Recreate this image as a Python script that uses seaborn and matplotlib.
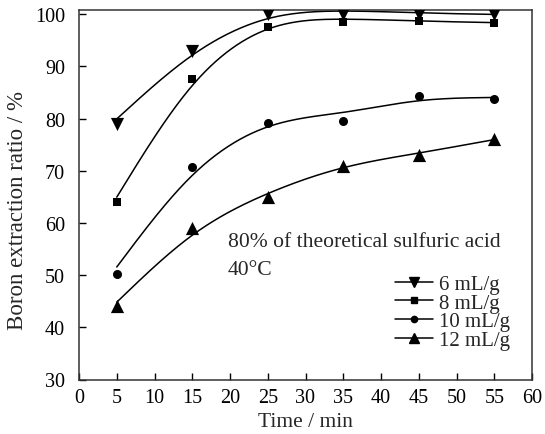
import numpy as np
import pandas as pd
import seaborn as sns
import matplotlib
matplotlib.use("Agg")
import matplotlib.pyplot as plt
from matplotlib.lines import Line2D

time_min = [5, 15, 25, 35, 45, 55]
ratio_6 = [79.0, 93.0, 100.0, 100.0, 100.0, 100.0]
ratio_8 = [64.0, 87.5, 97.5, 98.5, 98.6, 98.4]
ratio_10 = [50.3, 70.7, 79.2, 79.5, 84.3, 83.7]
ratio_12 = [44.0, 59.0, 65.0, 71.0, 73.0, 76.0]
series_labels = ["6 mL/g", "8 mL/g", "10 mL/g", "12 mL/g"]
smoothing = [150, 70, 120, 120]
markers = ["v", "s", "o", "^"]
marker_sizes = [9.5, 5.5, 6.5, 9.5]
legend_marker_sizes = [7, 4, 4.5, 7]
x_ticks = list(range(0, 61, 5))
y_ticks = list(range(30, 101, 10))

sns.set_theme(style="ticks")
plt.rcParams["font.family"] = ["Liberation Serif", "DejaVu Serif"]

df = pd.DataFrame({"time": time_min * 4,
                   "ratio": ratio_6 + ratio_8 + ratio_10 + ratio_12,
                   "series": np.repeat(series_labels, len(time_min))})

W_PX, H_PX = 545, 435
fig = plt.figure(figsize=(W_PX / 100, H_PX / 100), dpi=100)
ax = fig.add_axes([79 / W_PX, 1 - 380.5 / H_PX, (532 - 79) / W_PX, (380.5 - 11) / H_PX])


def smoothing_curve(x, y, grid, lam):
    """Penalised least-squares smoother (second-difference penalty) on a grid."""
    n = len(grid)
    idx = [int(np.argmin(np.abs(grid - xi))) for xi in x]
    W = np.zeros((n, n))
    b = np.zeros(n)
    for i, yi in zip(idx, y):
        W[i, i] += 1.0
        b[i] += yi
    D = np.diff(np.eye(n), 2, axis=0)
    h = grid[1] - grid[0]
    P = lam * (D.T @ D) / h ** 3
    return np.linalg.solve(W + P, b)


t_fine = np.linspace(5, 55, 501)
series_values = [ratio_6, ratio_8, ratio_10, ratio_12]

for vals, lam in zip(series_values, smoothing):
    curve = smoothing_curve(time_min, vals, t_fine, lam)
    sns.lineplot(x=t_fine, y=curve, ax=ax, color="black", lw=1.1, legend=False)

for label, m, ms in zip(series_labels, markers, marker_sizes):
    sub = df[df["series"] == label]
    sns.scatterplot(data=sub, x="time", y="ratio", ax=ax, marker=m, s=ms ** 2,
                    color="black", edgecolor="black", linewidth=0, legend=False,
                    zorder=3)

ax.set_xlim(0, 60)
ax.set_ylim(30, 100.8)
ax.set_xticks(x_ticks)
ax.set_yticks(y_ticks)
ax.tick_params(direction="in", length=5, width=1, labelsize=14.5, colors="black",
               top=False, right=False)
ax.tick_params(axis="y", pad=10)
ax.tick_params(axis="x", pad=6)
for sp in ax.spines.values():
    sp.set_visible(True)
    sp.set_color("#333333")
    sp.set_linewidth(1.1)
ax.set_xlabel("Time / min", fontsize=15.5, labelpad=4)
ax.set_ylabel("Boron extraction ratio / %", fontsize=16.5)
ax.yaxis.set_label_coords(-0.113, 0.46)

ax.text(19.7, 55.5, "80% of theoretical sulfuric acid", fontsize=15.6, ha="left", va="baseline")
ax.text(19.7, 50.2, "40\u00b0C", fontsize=15.6, ha="left", va="baseline")

handles = [Line2D([], [], color="black", lw=1.1, marker=m, markersize=ms)
           for m, ms in zip(markers, legend_marker_sizes)]
ax.legend(handles, series_labels, loc="center left", bbox_to_anchor=(0.698, 0.182),
          frameon=False, fontsize=15, handlelength=1.83, handletextpad=0.25,
          labelspacing=-0.05, borderpad=0, borderaxespad=0)

fig.savefig("out.png", dpi=100)
